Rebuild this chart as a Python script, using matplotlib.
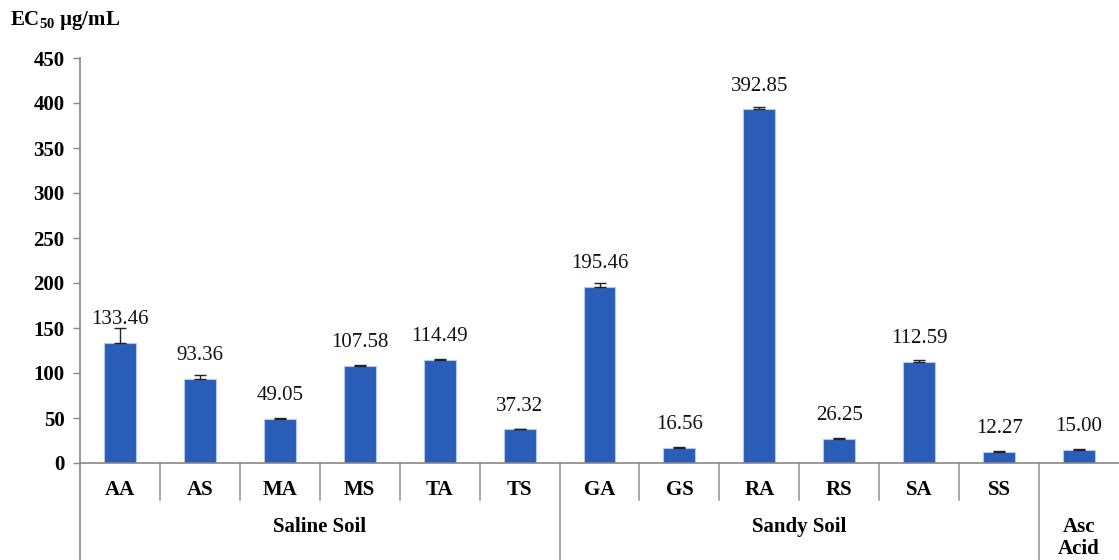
import matplotlib
matplotlib.use("Agg")
import matplotlib.pyplot as plt
import numpy as np
from matplotlib.transforms import blended_transform_factory

categories = ["AA", "AS", "MA", "MS", "TA", "TS", "GA", "GS", "RA", "RS", "SA", "SS", ""]
values = [133.46, 93.36, 49.05, 107.58, 114.49, 37.32, 195.46, 16.56, 392.85, 26.25, 112.59, 12.27, 15.00]
errors = [17.0, 4.0, 0.8, 1.5, 1.0, 0.8, 4.0, 1.5, 3.0, 1.5, 1.5, 0.8, 0.8]
groups = ["Saline Soil", "Sandy Soil", "Asc\nAcid"]
group_sizes = [6, 6, 1]
yticks = [0, 50, 100, 150, 200, 250, 300, 350, 400, 450]

plt.rcParams["font.family"] = ["Liberation Serif", "DejaVu Serif"]
plt.rcParams["mathtext.fontset"] = "custom"
plt.rcParams["mathtext.rm"] = "Liberation Serif:bold"
plt.rcParams["mathtext.it"] = "Liberation Serif:bold"
plt.rcParams["mathtext.bf"] = "Liberation Serif:bold"

W, H = 1119, 560
fig = plt.figure(figsize=(W / 100, H / 100), dpi=100)
ax = fig.add_axes([80 / W, 1 - 463 / H, 1 - 80 / W, (463 - 58) / H])

x = np.arange(len(values))
ax.bar(x, values, width=0.4, color="#2a5db7", edgecolor="#b4c8ec", linewidth=0.8, zorder=2)
ax.errorbar(x, values, yerr=[np.zeros(len(errors)), errors], fmt="none", ecolor="#222222",
            elinewidth=1.0, capsize=4, capthick=1.0, zorder=3)

for xi, v in zip(x, values):
    ax.annotate(f"{v:.2f}", (xi, v), xytext=(0, 10), textcoords="offset points",
                ha="center", va="bottom", fontsize=15, color="#111111")

ax.set_xlim(-0.5, len(values) - 0.5)
ax.set_ylim(0, 450)
ax.set_yticks(yticks)
ax.set_yticklabels([str(t) for t in yticks], fontsize=15, fontweight="bold")
ax.set_xticks([])
ax.tick_params(axis="y", length=5, color="#888888", width=1, pad=6)

for s in ["top", "right"]:
    ax.spines[s].set_visible(False)
ax.spines["left"].set_visible(False)
ax.spines["bottom"].set_color("#888888")
ax.spines["bottom"].set_linewidth(1.2)

trans = blended_transform_factory(ax.transData, ax.transAxes)
axh = 463 - 58
cat_bottom = -(500 - 463) / axh
grp_bottom = -(560 - 463) / axh

# left axis line extending to bottom
ax.plot([-0.5, -0.5], [grp_bottom, 1.0], transform=trans, color="#888888", lw=1.2, clip_on=False)

# category labels & separators
for i, c in enumerate(categories):
    ax.text(i, -(490 - 463) / axh, c, transform=trans, ha="center", va="center",
            fontsize=15, fontweight="bold")
bounds = np.cumsum(group_sizes) - 0.5
for i in range(len(values) - 1):
    b = i + 0.5
    bottom = grp_bottom if b in bounds else cat_bottom
    ax.plot([b, b], [bottom, 0], transform=trans, color="#999999", lw=1.2, clip_on=False)

# group labels
start = 0
for g, n in zip(groups, group_sizes):
    center = start + (n - 1) / 2
    if "\n" in g:
        ax.text(center, -(538 - 463) / axh, g, transform=trans, ha="center", va="center",
                fontsize=15, fontweight="bold", linespacing=1.15)
    else:
        ax.text(center, -(527 - 463) / axh, g, transform=trans, ha="center", va="center",
                fontsize=15, fontweight="bold")
    start += n

fig.text(10 / W, 1 - 20 / H, r"EC$_{50}$ µg/mL", ha="left", va="center",
         fontsize=15, fontweight="bold")

fig.savefig("out.png", dpi=100)
